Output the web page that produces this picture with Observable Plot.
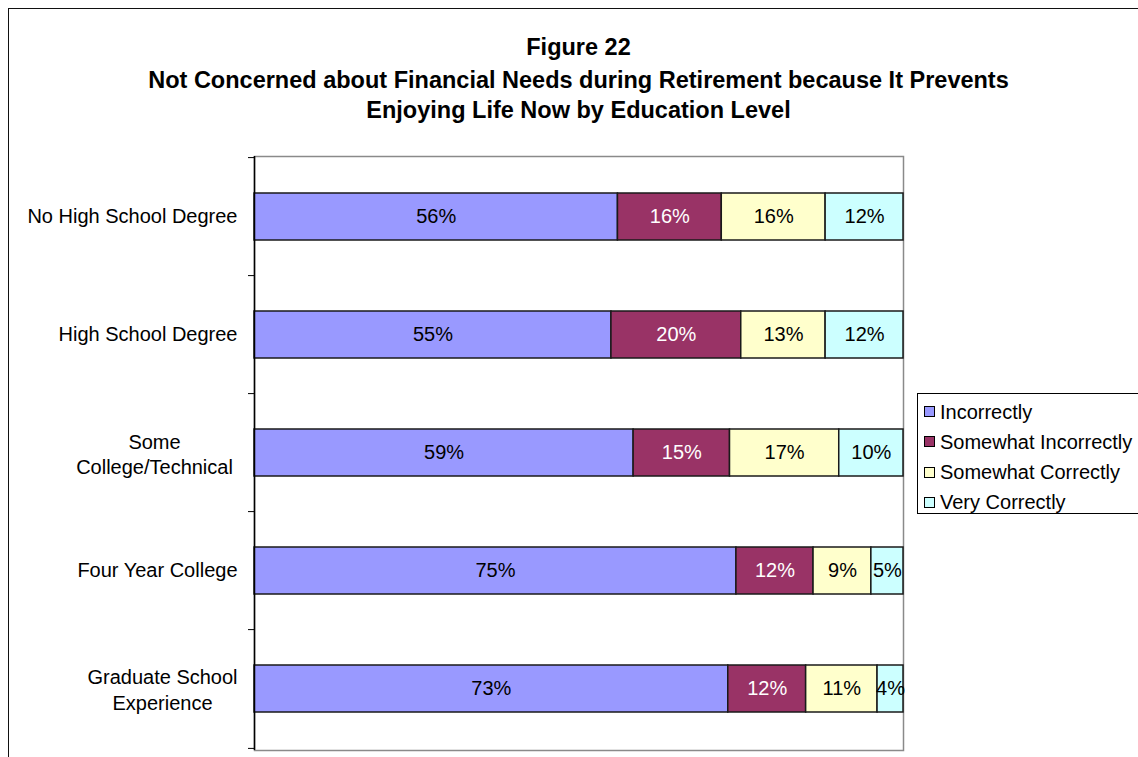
<!DOCTYPE html>
<html><head><meta charset="utf-8">
<script src="https://cdn.jsdelivr.net/npm/d3@7"></script>
<script src="https://cdn.jsdelivr.net/npm/@observablehq/plot@0.6"></script>
<style>
html,body{margin:0;padding:0;background:#fff;}
#wrap{position:relative;width:1138px;height:757px;overflow:hidden;font-family:"Liberation Sans",Arial,sans-serif;}
#border{position:absolute;left:8px;top:8px;width:1150px;height:770px;border:1.5px solid #111;box-sizing:border-box}
.t{position:absolute;left:0;width:1157px;text-align:center;font-weight:bold;font-size:23.5px;line-height:23.5px;white-space:nowrap;color:#000}
#chart{position:absolute;left:0;top:0}
#legend{position:absolute;left:917px;top:393px;width:240px;height:121px;border:1px solid #000;box-sizing:border-box;background:#fff}
.sw{position:absolute;width:9px;height:9px;border:1px solid #000;box-sizing:content-box}
.lt{position:absolute;font-size:20px;line-height:20px;white-space:nowrap;color:#000}
</style>
</head><body>
<div id="wrap">
  <div id="chart"></div>
  <div id="border"></div>
  <div class="t" id="t1"></div>
  <div class="t" id="t2"></div>
  <div class="t" id="t3"></div>
  <div id="legend"></div>
</div>
<script>
const titleLines = ["Figure 22", "Not Concerned about Financial Needs during Retirement because It Prevents", "Enjoying Life Now by Education Level"];
const categories = ["No High School Degree", "High School Degree", "Some\nCollege/Technical", "Four Year College", "Graduate School\nExperience"];
const responses = ["Incorrectly", "Somewhat Incorrectly", "Somewhat Correctly", "Very Correctly"];
const colors = ["#9999FF", "#993366", "#FFFFCC", "#CCFFFF"];
const incorrectly = [56, 55, 59, 75, 73];
const somewhatIncorrectly = [16, 20, 15, 12, 12];
const somewhatCorrectly = [16, 13, 17, 9, 11];
const veryCorrectly = [12, 12, 10, 5, 4];

const series = [incorrectly, somewhatIncorrectly, somewhatCorrectly, veryCorrectly];
const data = [];
categories.forEach((c, i) => series.forEach((s, j) => data.push({cat: c, resp: responses[j], value: s[i]})));

const W = 1138, H = 757, mt = 156, mb = 7, ml = 254, mr = 235;
const step = (H - mt - mb) / categories.length;
const font = "'Liberation Sans', Arial, sans-serif";

["t1","t2","t3"].forEach((id, i) => {
  const el = document.getElementById(id);
  el.textContent = titleLines[i];
  el.style.top = [35.5, 68.5, 98.5][i] + "px";
});

const singles = categories.filter(c => !c.includes("\n"));
const stackOpts = (extra) => Plot.stackX({x: "value", y: "cat", z: "resp", offset: "normalize", order: responses, ...extra});

const chart = Plot.plot({
  width: W, height: H,
  marginTop: mt, marginBottom: mb, marginLeft: ml, marginRight: mr,
  style: {fontFamily: font, fontSize: "20px", background: "#fff", color: "#000"},
  x: {domain: [0, 1], axis: null},
  y: {domain: categories, paddingInner: 0.6, paddingOuter: 0.3, label: null},
  color: {domain: responses, range: colors},
  marks: [
    Plot.frame({stroke: "#8a8a8a", strokeWidth: 1.5}),
    Plot.barX(data, stackOpts({fill: "resp", stroke: "#1a1a1a", strokeWidth: 1.5})),
    Plot.text(data, stackOpts({text: d => d.resp === "Somewhat Incorrectly" ? null : d.value + "%", fill: "#000", fontSize: 20})),
    Plot.text(data, stackOpts({text: d => d.resp === "Somewhat Incorrectly" ? d.value + "%" : null, fill: "#fff", fontSize: 20})),
    Plot.ruleX([0], {stroke: "#000", strokeWidth: 1.5}),
    Plot.axisY({ticks: categories, tickSize: 6, text: null, dy: -step / 2, stroke: "#000"}),
    Plot.axisY({ticks: categories.slice(-1), tickSize: 6, text: null, dy: step / 2, stroke: "#000"}),
    Plot.axisY({ticks: singles, tickSize: 0, tickPadding: 17, fontSize: 20, label: null}),
    Plot.axisY({ticks: [categories[2]], tickSize: 0, tickPadding: 100, textAnchor: "middle", fontSize: 20, lineHeight: 1.25, label: null}),
    Plot.axisY({ticks: [categories[4]], tickSize: 0, tickPadding: 92, textAnchor: "middle", fontSize: 20, lineHeight: 1.3, label: null})
  ]
});
document.getElementById("chart").appendChild(chart);

const legend = document.getElementById("legend");
responses.forEach((r, i) => {
  const cy = 411.5 + i * 30.3 - 394;
  const sw = document.createElement("div");
  sw.className = "sw";
  sw.style.left = "6px";
  sw.style.top = (cy - 5.5) + "px";
  sw.style.background = colors[i];
  legend.appendChild(sw);
  const t = document.createElement("div");
  t.className = "lt";
  t.style.left = "22px";
  t.style.top = (cy - 10) + "px";
  t.textContent = r;
  legend.appendChild(t);
});
</script>
</body></html>
